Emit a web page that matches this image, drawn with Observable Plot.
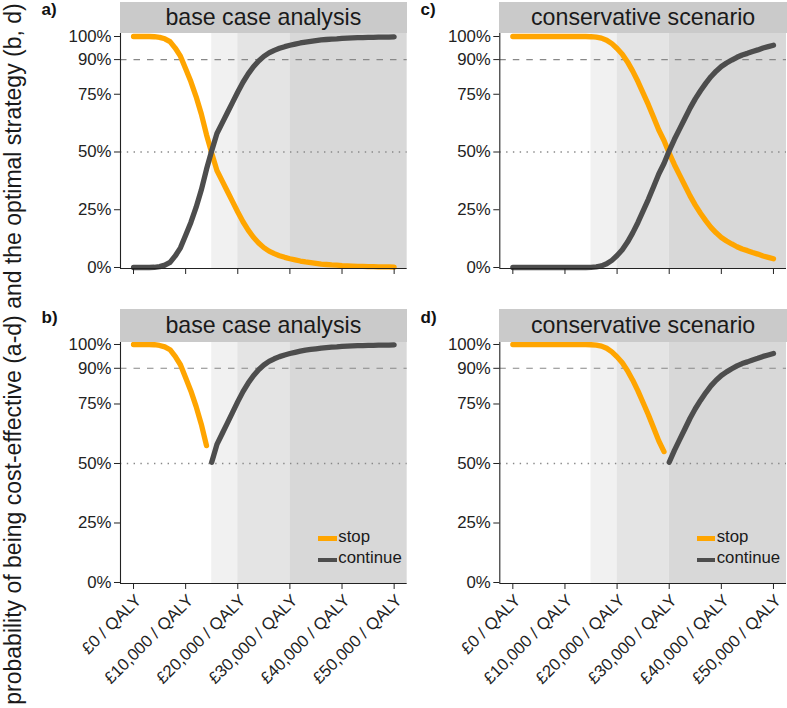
<!DOCTYPE html>
<html>
<head>
<meta charset="utf-8">
<script src="https://cdn.jsdelivr.net/npm/d3@7"></script>
<script src="https://cdn.jsdelivr.net/npm/@observablehq/plot@0.6"></script>
<style>
  body { margin: 0; background: #ffffff; font-family: "Liberation Sans", Arial, sans-serif; }
  #fig { position: relative; width: 787px; height: 708px; overflow: hidden; background: #fff; }
  .panel { position: absolute; }
  .strip { position: absolute; background: #cacaca; color: #1a1a1a; font-size: 23.2px; text-align: center; white-space: nowrap; }
  .tag { position: absolute; font-weight: bold; font-size: 17px; line-height: 17px; color: #111; }
  .ytitle { position: absolute; font-size: 23px; line-height: 23px; color: #1a1a1a; white-space: nowrap;
            transform: translate(-50%, -50%) rotate(-90deg); }
  .lg { position: absolute; font-size: 16.8px; line-height: 16px; color: #1a1a1a; white-space: nowrap; }
  .key { position: absolute; height: 4.6px; width: 18.4px; }
</style>
</head>
<body>
<div id="fig"></div>
<script>
// ---------------- data ----------------
const thresholds = [0,1000,2000,3000,4000,5000,6000,7000,8000,9000,10000,11000,12000,13000,14000,15000,16000,17000,18000,19000,20000,21000,22000,23000,24000,25000,26000,27000,28000,29000,30000,31000,32000,33000,34000,35000,36000,37000,38000,39000,40000,41000,42000,43000,44000,45000,46000,47000,48000,49000,50000];

// base case analysis (probability cost-effective, %)
const baseStop = [100,100,100,100,99.9,99.6,99,97.8,95,91.5,86,80.5,74,66.5,57.5,49.5,42,37.5,33,28.5,24,19.8,16.2,13.1,10.6,8.6,7.1,6,5.1,4.4,3.8,3.3,2.8,2.4,2.1,1.8,1.5,1.3,1.1,1,0.8,0.7,0.6,0.5,0.5,0.4,0.4,0.3,0.3,0.3,0.2];
const baseContinue = [0,0,0,0,0.1,0.4,1,2.2,5,8.5,14,19.5,26,33.5,42.5,50.5,58,62.5,67,71.5,76,80.2,83.8,86.9,89.4,91.4,92.9,94,94.9,95.6,96.2,96.7,97.2,97.6,97.9,98.2,98.5,98.7,98.9,99,99.2,99.3,99.4,99.5,99.5,99.6,99.6,99.7,99.7,99.7,99.8];

// conservative scenario (%)
const consStop = [100,100,100,100,100,100,100,100,100,100,100,100,100,100,100,99.9,99.7,99.3,98.4,96.9,94.8,92.3,89,85,80.5,75.5,70.5,65,59.5,55,49.5,44.5,40,35.5,31,27,23.5,20.3,17.4,15,13,11.5,10.2,9,8,7.3,6.5,5.8,5,4.4,3.8];
const consContinue = [0,0,0,0,0,0,0,0,0,0,0,0,0,0,0,0.1,0.3,0.7,1.6,3.1,5.2,7.7,11,15,19.5,24.5,29.5,35,40.5,45,50.5,55.5,60,64.5,69,73,76.5,79.7,82.6,85,87,88.5,89.8,91,92,92.7,93.5,94.2,95,95.6,96.2];

const xTicks = [0,10000,20000,30000,40000,50000];
const yTicks = [0,25,50,75,90,100];
const bandEdges = [15000,20000,30000];
const refDashed = [90];
const refDotted = [50];
const panelTitles = ["base case analysis","conservative scenario"];
const panelTags = ["a)","b)","c)","d)"];
const legendLabels = ["stop","continue"];
const yTitle = "probability of being cost-effective (a-d) and the optimal strategy (b, d)";

// ---------------- styling / layout ----------------
const ORANGE = "#FFA500", DARK = "#4D4D4D", AXIS = "#222";
const shades = ["#f1f1f1","#e4e4e4","#d8d8d8"];
const xDomain = [-2500, 52500];
const fig = document.getElementById("fig");
const fmtX = d => "£" + d3.format(",")(d) + " / QALY";

function makePanel(o) {
  const rows = thresholds.map((t, i) => ({t, stop: o.stop[i], cont: o.cont[i]}));
  const sRows = o.optimal ? rows.filter(d => d.stop >= d.cont) : rows;
  const cRows = o.optimal ? rows.filter(d => d.cont > d.stop) : rows;
  const bands = bandEdges.map((e, i) => ({x1: e, x2: i + 1 < bandEdges.length ? bandEdges[i + 1] : xDomain[1]}));
  const marks = [
    ...bands.map((b, i) => Plot.rect([b], {x1: "x1", x2: "x2", y1: o.yDomain[0], y2: o.yDomain[1], fill: shades[i]})),
    Plot.ruleY(refDashed, {stroke: "#888", strokeWidth: 1.1, strokeDasharray: "6.5,7"}),
    Plot.ruleY(refDotted, {stroke: "#888", strokeWidth: 1.5, strokeDasharray: "1.4,5.4"}),
    Plot.line(sRows, {x: "t", y: "stop", stroke: ORANGE, strokeWidth: 5.3, strokeLinejoin: "round", strokeLinecap: "round"}),
    Plot.line(cRows, {x: "t", y: "cont", stroke: DARK, strokeWidth: 5.3, strokeLinejoin: "round", strokeLinecap: "round"}),
    Plot.ruleX([xDomain[0]], {stroke: AXIS, strokeWidth: 1.1}),
    Plot.ruleY([o.yDomain[0]], {stroke: AXIS, strokeWidth: 1.1}),
    Plot.axisY(yTicks, {tickSize: 6, tickPadding: 3, tickFormat: d => d + "%", stroke: AXIS}),
    Plot.axisX(xTicks, {tickSize: 6, tickFormat: () => "", stroke: AXIS})
  ];
  if (o.labels) {
    marks.push(Plot.axisX(xTicks, {tickSize: 0, tickPadding: 8, tickRotate: -45, tickFormat: fmtX, dx: 5, dy: 6}));
  }
  const plot = Plot.plot({
    width: o.width, height: o.height,
    marginLeft: o.mLeft, marginRight: 1, marginTop: o.mTop, marginBottom: o.mBottom,
    style: {fontFamily: '"Liberation Sans", Arial, sans-serif', fontSize: "16.8px", color: AXIS, background: "transparent", overflow: "visible"},
    x: {domain: xDomain, axis: null},
    y: {domain: o.yDomain, axis: null},
    marks
  });
  plot.classList.add("panel");
  plot.style.left = o.left + "px";
  plot.style.top = o.top + "px";
  fig.appendChild(plot);
}

const topY = [-0.43, 101.3];
const botY = [-0.42, 100.84];
makePanel({stop: baseStop, cont: baseContinue, optimal: false, yDomain: topY, left: 0, top: 0, width: 407.7, height: 300, mLeft: 120, mTop: 33, mBottom: 32, labels: false});
makePanel({stop: consStop, cont: consContinue, optimal: false, yDomain: topY, left: 390, top: 0, width: 397, height: 300, mLeft: 109.3, mTop: 33, mBottom: 32, labels: false});
makePanel({stop: baseStop, cont: baseContinue, optimal: true, yDomain: botY, left: 0, top: 300, width: 407.7, height: 408, mLeft: 120, mTop: 42, mBottom: 125, labels: true});
makePanel({stop: consStop, cont: consContinue, optimal: true, yDomain: botY, left: 390, top: 300, width: 397, height: 408, mLeft: 109.3, mTop: 42, mBottom: 125, labels: true});

// strips
const strips = [
  {t: panelTitles[0], l: 120, tp: 1.7, w: 286.7, h: 31.3},
  {t: panelTitles[1], l: 499.3, tp: 1.7, w: 287.7, h: 31.3},
  {t: panelTitles[0], l: 120, tp: 309.3, w: 286.7, h: 32.4},
  {t: panelTitles[1], l: 499.3, tp: 309.3, w: 287.7, h: 32.4}
];
strips.forEach(s => {
  const d = document.createElement("div");
  d.className = "strip";
  Object.assign(d.style, {left: s.l + "px", top: s.tp + "px", width: s.w + "px", height: s.h + "px", lineHeight: s.h + "px"});
  d.textContent = s.t;
  fig.appendChild(d);
});

// panel tags a) b) c) d)
const tagPos = [{l: 41.5, t: 0.5}, {l: 41.5, t: 308.8}, {l: 420.5, t: 0.5}, {l: 420.5, t: 308.8}];
panelTags.forEach((txt, i) => {
  const d = document.createElement("div");
  d.className = "tag";
  d.style.left = tagPos[i].l + "px";
  d.style.top = tagPos[i].t + "px";
  d.textContent = txt;
  fig.appendChild(d);
});

// y title
const yt = document.createElement("div");
yt.className = "ytitle";
yt.style.left = "13px";
yt.style.top = "354px";
yt.textContent = yTitle;
fig.appendChild(yt);

// legends (bottom panels)
const legendColors = [ORANGE, DARK];
[318.3, 696.7].forEach(lx => {
  legendLabels.forEach((lab, i) => {
    const cy = 538.5 + i * 21.3;
    const k = document.createElement("div");
    k.className = "key";
    k.style.left = lx + "px";
    k.style.top = (cy - 2.3) + "px";
    k.style.background = legendColors[i];
    fig.appendChild(k);
    const t = document.createElement("div");
    t.className = "lg";
    t.style.left = (lx + 20) + "px";
    t.style.top = (cy + 4.3 - 13.8) + "px";
    t.textContent = lab;
    fig.appendChild(t);
  });
});
</script>
</body>
</html>
